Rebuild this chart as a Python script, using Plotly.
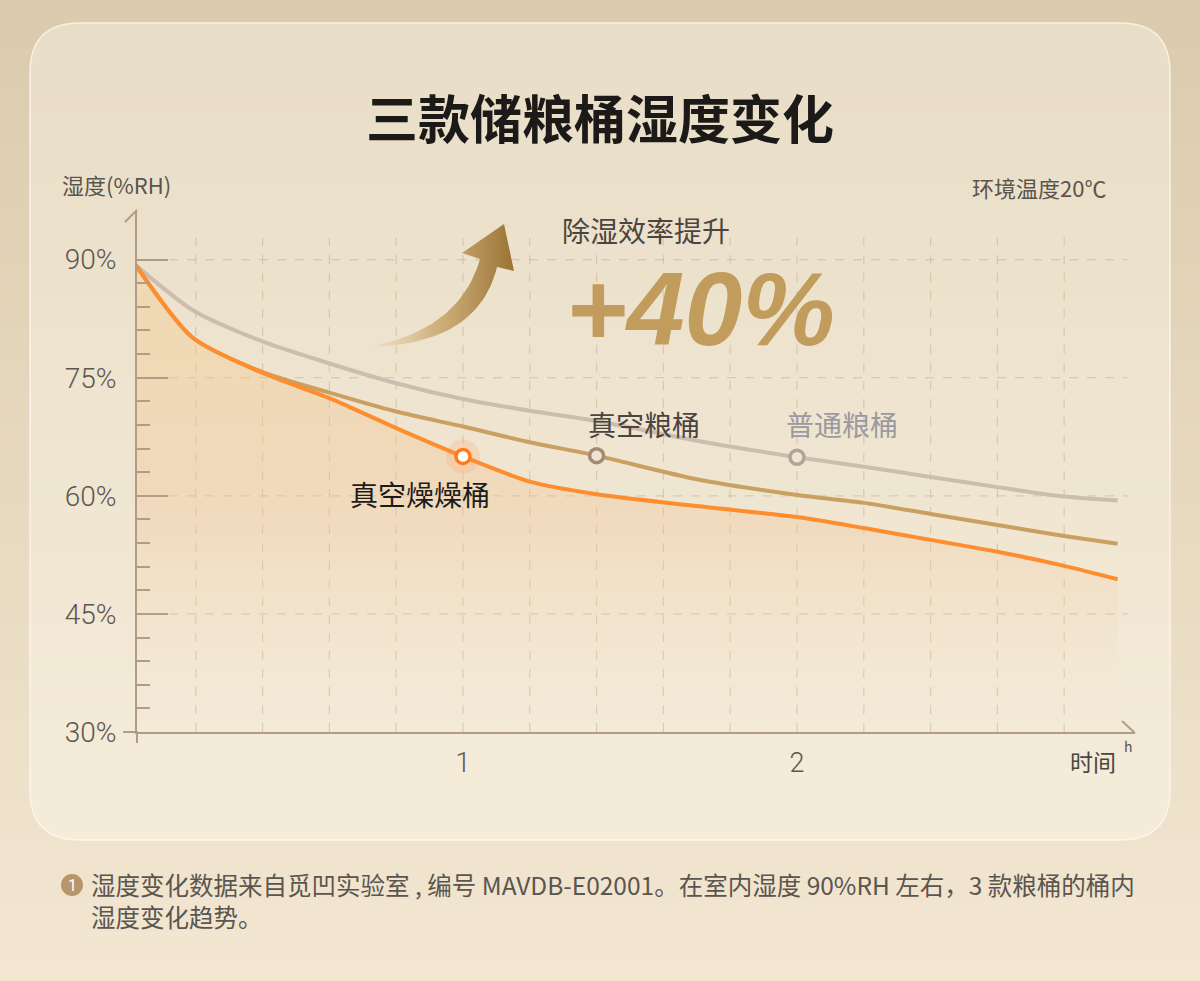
import numpy as np
import plotly.graph_objects as go

# ---- data ----
time_h = [0.02, 0.19, 0.40, 0.60, 0.80, 1.00, 1.20, 1.40, 1.70, 2.00, 2.20, 2.40, 2.60, 2.80, 2.96]
normal_bin = [89.3, 83.6, 79.6, 76.8, 74.3, 72.3, 70.8, 69.5, 67.0, 64.9, 63.7, 62.4, 61.1, 59.9, 59.4]
vacuum_bin = [89.3, 80.1, 75.7, 73.1, 70.7, 68.8, 66.8, 65.1, 62.1, 60.1, 59.1, 57.7, 56.3, 54.9, 53.9]
vacuum_dry_bin = [89.3, 80.1, 75.6, 72.4, 68.6, 65.0, 61.8, 60.2, 58.7, 57.3, 55.9, 54.4, 52.9, 51.1, 49.4]
series_names = ["普通粮桶", "真空粮桶", "真空燥燥桶"]
marked_idx = [9, 7, 5]          # which point of each series carries the ring marker
y_ticks = [30, 45, 60, 75, 90]
y_tick_text = ["30%", "45%", "60%", "75%", "90%"]
y_minor = [33, 36, 39, 42, 48, 51, 54, 57, 63, 66, 69, 72, 78, 81, 84, 87]
x_ticks = [1, 2]
x_grid = [0.2, 0.4, 0.6, 0.8, 1.0, 1.2, 1.4, 1.6, 1.8, 2.0, 2.2, 2.4, 2.6, 2.8]
y_grid = [45, 60, 75, 90]

W, H = 1200, 981
CJK = "Noto Sans CJK SC"
NUM = "Roboto"
AXIS_C = "#b39c86"


def px(x):
    return x / W


def py(y):
    return 1 - y / H


fig = go.Figure()

# area under the vacuum-dry line
fig.add_trace(go.Scatter(
    x=time_h, y=vacuum_dry_bin, mode="lines", line=dict(width=0, shape="spline", smoothing=0.7),
    fill="tozeroy",
    fillgradient=dict(type="vertical", start=30, stop=90,
                      colorscale=[[0, "rgba(250,232,205,0)"], [0.45, "rgba(242,190,140,0.30)"],
                                  [1, "rgba(243,210,150,0.5)"]]),
    hoverinfo="skip", showlegend=False))

line_colors = ["#ccbdaf", "#c9a062", "#fd8d2e"]
for name, ys, c in zip(series_names, [normal_bin, vacuum_bin, vacuum_dry_bin], line_colors):
    fig.add_trace(go.Scatter(x=time_h, y=ys, mode="lines", name=name,
                             line=dict(color=c, width=4, shape="spline", smoothing=0.7),
                             showlegend=False))

# ring markers
ring_line = ["#b3a595", "#a38b73", "#ff7a1c"]
ring_fill = ["#efe5d4", "#efe5d4", "#ffffff"]
series_vals = [normal_bin, vacuum_bin, vacuum_dry_bin]
i_dry = marked_idx[2]
fig.add_trace(go.Scatter(x=[time_h[i_dry]], y=[vacuum_dry_bin[i_dry]], mode="markers",
                         marker=dict(size=34, color="rgba(255,140,60,0.16)"),
                         hoverinfo="skip", showlegend=False))
for k in range(3):
    i = marked_idx[k]
    fig.add_trace(go.Scatter(x=[time_h[i]], y=[series_vals[k][i]], mode="markers",
                             marker=dict(size=14, color=ring_fill[k], line=dict(color=ring_line[k], width=3.5)),
                             showlegend=False))

# decorative arrow in pixel space (overlay axes)
def qbez(p0, c, p1, n=30):
    t = np.linspace(0, 1, n)
    x = (1 - t) ** 2 * p0[0] + 2 * (1 - t) * t * c[0] + t ** 2 * p1[0]
    y = (1 - t) ** 2 * p0[1] + 2 * (1 - t) * t * c[1] + t ** 2 * p1[1]
    return list(x), list(y)

ux, uy = qbez((368, 347), (460, 330), (480, 259))
lx, ly = qbez((497, 267), (478, 345), (368, 347))
ax_ = ux + [462, 504, 514] + lx
ay_ = uy + [253, 224, 271] + ly
fig.add_trace(go.Scatter(
    x=ax_, y=ay_, xaxis="x2", yaxis="y2", mode="lines", line=dict(width=0),
    fill="toself",
    fillgradient=dict(type="horizontal", start=368, stop=514,
                      colorscale=[[0, "rgba(228,205,160,0.2)"], [0.45, "rgba(205,170,112,0.85)"],
                                  [1, "#9a7234"]]),
    hoverinfo="skip", showlegend=False))

shapes = []
# page background gradient
n = 60
top_c, bot_c = np.array([220, 204, 174]), np.array([243, 231, 210])
for s in range(n):
    f = s / (n - 1)
    c = top_c + (bot_c - top_c) * f
    shapes.append(dict(type="rect", xref="paper", yref="paper", x0=0, x1=1,
                       y0=max(0, py(H * (s + 1) / n + 1)), y1=py(H * s / n),
                       fillcolor="rgb(%d,%d,%d)" % tuple(c), line=dict(width=0), layer="below"))

# rounded panel
x0, y0, x1, y1, r = 30, 23, 1170, 840, 50
path = ("M {a},{b} L {c},{b} Q {d},{b} {d},{e} L {d},{f} Q {d},{g} {c},{g} "
        "L {a},{g} Q {h},{g} {h},{f} L {h},{e} Q {h},{b} {a},{b} Z").format(
    a=px(x0 + r), b=py(y0), c=px(x1 - r), d=px(x1), e=py(y0 + r), f=py(y1 - r), g=py(y1), h=px(x0))
shapes.append(dict(type="path", xref="paper", yref="paper", path=path,
                   fillcolor="rgba(255,251,240,0.36)", line=dict(color="rgba(255,250,240,0.75)", width=1.5),
                   layer="below"))

# dashed grid
for g in x_grid:
    shapes.append(dict(type="line", xref="x", yref="y", x0=g, x1=g, y0=30, y1=92.8,
                       line=dict(color="rgba(200,172,145,0.5)", width=1.2, dash="dash"), layer="below"))
for g in y_grid:
    shapes.append(dict(type="line", xref="x", yref="y", x0=0.12, x1=2.99, y0=g, y1=g,
                       line=dict(color="rgba(200,172,145,0.5)", width=1.2, dash="dash"), layer="below"))

# axis extensions and arrow tips
axl = dict(color=AXIS_C, width=2)
shapes.append(dict(type="line", xref="paper", yref="paper", x0=px(123), x1=px(138), y0=py(732), y1=py(732), line=axl))
shapes.append(dict(type="line", xref="paper", yref="paper", x0=px(137), x1=px(137), y0=py(743), y1=py(731), line=axl))
shapes.append(dict(type="line", xref="paper", yref="paper", x0=px(125), x1=px(137), y0=py(222), y1=py(210), line=axl))
shapes.append(dict(type="line", xref="paper", yref="paper", x0=px(1122), x1=px(1135), y0=py(721), y1=py(733), line=axl))

# footnote badge
shapes.append(dict(type="circle", xref="paper", yref="paper", x0=px(61), x1=px(83), y0=py(896), y1=py(874),
                   fillcolor="#b8956a", line=dict(width=0)))

ann = []


def text(x, y, s, size, color, family=CJK, xanchor="center", yanchor="middle", weight="normal", style="normal", **kw):
    d = dict(x=px(x), y=py(y), xref="paper", yref="paper", text=s, showarrow=False,
             xanchor=xanchor, yanchor=yanchor, align="left",
             font=dict(family=family, size=size, color=color, weight=weight, style=style))
    d.update(kw)
    ann.append(d)


text(600, 116, "三款储粮桶湿度变化", 52, "#1c1a18", weight="bold")
text(60, 184, "湿度(%RH)", 22, "#5a544e", xanchor="left")
text(1108, 187, "环境温度20℃", 22, "#5a544e", xanchor="right")
text(560, 230, "除湿效率提升", 28, "#4b4540", xanchor="left")
text(700, 309, "+40%", 104, "#c29c5d", family="Liberation Sans", weight="bold", style="italic", height=80)
text(1093, 761, "时间", 23, "#4b4540")
text(1128, 746, "h", 14, "#5a544e")
text(72, 885, "1", 16, "#ffffff", family=NUM)
text(89, 900, "湿度变化数据来自觅凹实验室 , 编号 MAVDB-E02001。在室内湿度 90%RH 左右，3 款粮桶的桶内"
     "<br>湿度变化趋势。", 24.5, "#5b5550", xanchor="left")

# series labels next to their markers
label_shift = [(45, 33), (47, 32), (-43, -38)]
label_color = ["#9a9aa0", "#4a4541", "#1e1c1a"]
for k in range(3):
    i = marked_idx[k]
    ann.append(dict(x=time_h[i], y=series_vals[k][i], xref="x", yref="y", text=series_names[k],
                    showarrow=False, xshift=label_shift[k][0], yshift=label_shift[k][1],
                    font=dict(family=CJK, size=28, color=label_color[k])))

fig.update_layout(
    width=W, height=H, margin=dict(l=0, r=0, t=0, b=0, pad=0, autoexpand=False),
    paper_bgcolor="#efe2ca", plot_bgcolor="rgba(0,0,0,0)",
    shapes=shapes, annotations=ann, showlegend=False,
    xaxis=dict(domain=[px(137), px(1135)], range=[0.024, 3.012], showgrid=False, zeroline=False,
               automargin=False,
               showline=True, linecolor=AXIS_C, linewidth=2, ticks="",
               tickvals=x_ticks, ticktext=[str(v) for v in x_ticks], ticklabelstandoff=6,
               tickfont=dict(family=NUM, size=27, color="#5d5650", weight=300)),
    yaxis=dict(domain=[py(732), py(210)], range=[30, 96.3], showgrid=False, zeroline=False,
               automargin=False,
               showline=True, linecolor=AXIS_C, linewidth=2,
               ticks="inside", ticklen=31, tickwidth=2, tickcolor=AXIS_C,
               tickvals=y_ticks, ticktext=y_tick_text, ticklabelstandoff=13,
               tickfont=dict(family=NUM, size=28, color="#5d5650", weight=300),
               minor=dict(tickvals=y_minor, ticks="inside", ticklen=13, tickwidth=1.6, tickcolor=AXIS_C)),
    xaxis2=dict(domain=[0, 1], range=[0, W], visible=False, anchor="y2", automargin=False),
    yaxis2=dict(domain=[0, 1], range=[H, 0], visible=False, anchor="x2", automargin=False),
)

fig.write_html("out.html", config={"displayModeBar": False},
               post_script="document.body.style.margin='0';")
